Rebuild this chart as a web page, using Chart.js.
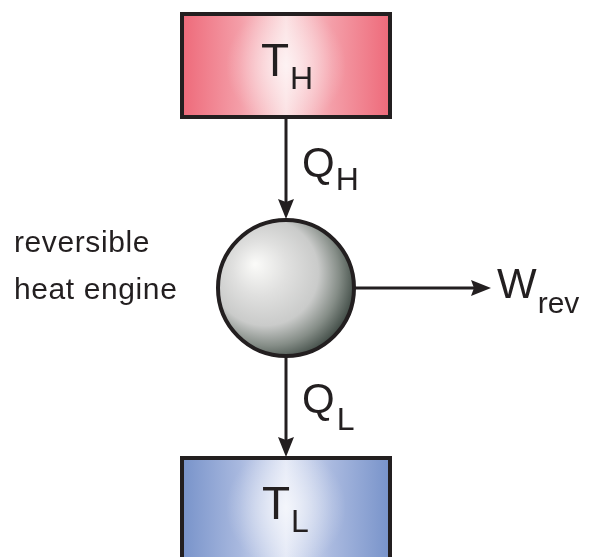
<!DOCTYPE html>
<html>
<head>
<meta charset="utf-8">
<script src="https://cdn.jsdelivr.net/npm/chart.js@4.4.1/dist/chart.umd.min.js"></script>
<style>
html,body{margin:0;padding:0;background:#fff;}
#wrap{width:590px;height:557px;}
</style>
</head>
<body>
<div id="wrap"><canvas id="c" width="590" height="557"></canvas></div>
<script>
// ---- diagram content ----
const reservoirNames = ['T', 'T'];
const reservoirSubs = ['H', 'L'];
const heatNames = ['Q', 'Q'];
const heatSubs = ['H', 'L'];
const workName = ['W'];
const workSub = ['rev'];
const engineLabel = ['reversible', 'heat engine'];

// layout (in diagram units = pixels of a 590x557 frame)
const layout = {
  hot:  {x0: 182, x1: 390, y0: 14, y1: 117},
  cold: {x0: 182, x1: 390, y0: 458, y1: 580},
  engine: {cx: 286, cy: 288, r: 68},
  axisX: 286,
  workEnd: 491
};

const INK = '#231f20';
const FONT = '"Liberation Sans", Arial, Helvetica, sans-serif';

const diagramPlugin = {
  id: 'diagram',
  afterDatasetsDraw(chart) {
    const ctx = chart.ctx;
    const X = v => chart.scales.x.getPixelForValue(v);
    const Y = v => chart.scales.y.getPixelForValue(v);

    function box(b, edge, mid, center, glow) {
      const x0 = X(b.x0), x1 = X(b.x1), y0 = Y(b.y0), y1 = Y(b.y1);
      ctx.save();
      const lg = ctx.createLinearGradient(x0, 0, x1, 0);
      lg.addColorStop(0, edge);
      lg.addColorStop(0.28, mid);
      lg.addColorStop(0.5, center);
      lg.addColorStop(0.72, mid);
      lg.addColorStop(1, edge);
      ctx.fillStyle = lg;
      ctx.fillRect(x0, y0, x1 - x0, y1 - y0);
      const cx = (x0 + x1) / 2, cy = (y0 + Math.min(y1, 557)) / 2;
      const rg = ctx.createRadialGradient(cx, cy, 0, cx, cy, 60);
      rg.addColorStop(0, glow);
      rg.addColorStop(1, 'rgba(255,255,255,0)');
      ctx.fillStyle = rg;
      ctx.fillRect(x0, y0, x1 - x0, y1 - y0);
      ctx.lineWidth = 4;
      ctx.strokeStyle = INK;
      ctx.strokeRect(x0, y0, x1 - x0, y1 - y0);
      ctx.restore();
    }

    function arrow(xa, ya, xb, yb) {
      const ang = Math.atan2(yb - ya, xb - xa);
      const hl = 20, hw = 8;
      ctx.save();
      ctx.strokeStyle = INK;
      ctx.fillStyle = INK;
      ctx.lineWidth = 3;
      ctx.beginPath();
      ctx.moveTo(xa, ya);
      ctx.lineTo(xb - Math.cos(ang) * (hl - 3), yb - Math.sin(ang) * (hl - 3));
      ctx.stroke();
      ctx.beginPath();
      ctx.moveTo(xb, yb);
      ctx.lineTo(xb - Math.cos(ang) * hl - Math.sin(ang) * hw, yb - Math.sin(ang) * hl + Math.cos(ang) * hw);
      ctx.lineTo(xb - Math.cos(ang) * hl * 0.85, yb - Math.sin(ang) * hl * 0.85);
      ctx.lineTo(xb - Math.cos(ang) * hl + Math.sin(ang) * hw, yb - Math.sin(ang) * hl - Math.cos(ang) * hw);
      ctx.closePath();
      ctx.fill();
      ctx.restore();
    }

    function label(main, sub, x, yBase, mainSize, subSize, subDrop, gap) {
      ctx.save();
      ctx.fillStyle = INK;
      ctx.textBaseline = 'alphabetic';
      ctx.textAlign = 'left';
      ctx.font = mainSize + 'px ' + FONT;
      ctx.fillText(main, x, yBase);
      const w = ctx.measureText(main).width;
      ctx.font = subSize + 'px ' + FONT;
      ctx.fillText(sub, x + w + gap, yBase + subDrop);
      ctx.restore();
    }

    const ax = X(layout.axisX);
    const e = layout.engine;
    const ecx = X(e.cx), ecy = Y(e.cy), er = e.r;

    // reservoirs
    box(layout.hot, '#ee6a7a', '#f49ea8', '#fbdfe1', 'rgba(255,255,255,0.6)');
    box(layout.cold, '#7893ca', '#a9b9df', '#e3e8f6', 'rgba(255,255,255,0.6)');

    // arrows
    arrow(ax, Y(layout.hot.y1), ax, ecy - er - 1);
    arrow(ax, ecy + er, ax, Y(layout.cold.y0) - 1);
    arrow(ecx + er, ecy, X(layout.workEnd), ecy);

    // engine sphere
    ctx.save();
    const sg = ctx.createRadialGradient(ecx - 31, ecy - 24, 1, ecx - 14, ecy - 10, er + 20);
    sg.addColorStop(0, '#fafaf8');
    sg.addColorStop(0.3, '#e0e0df');
    sg.addColorStop(0.6, '#cacbca');
    sg.addColorStop(0.8, '#858d87');
    sg.addColorStop(1, '#34403a');
    ctx.beginPath();
    ctx.arc(ecx, ecy, er, 0, Math.PI * 2);
    ctx.fillStyle = sg;
    ctx.fill();
    ctx.lineWidth = 4;
    ctx.strokeStyle = INK;
    ctx.stroke();
    ctx.restore();

    // texts
    label(reservoirNames[0], reservoirSubs[0], X(261), Y(76), 46, 32, 13, 1);
    label(reservoirNames[1], reservoirSubs[1], X(262), Y(519), 46, 32, 13, 1);
    label(heatNames[0], heatSubs[0], X(302), Y(177), 42, 32, 13, 1);
    label(heatNames[1], heatSubs[1], X(302), Y(413), 42, 32, 17, 2);
    label(workName[0], workSub[0], X(497), Y(298), 42, 30, 15, 1);

    ctx.save();
    ctx.fillStyle = INK;
    ctx.font = '30px ' + FONT;
    ctx.letterSpacing = '0.6px';
    ctx.fillText(engineLabel[0], X(14), Y(252));
    ctx.fillText(engineLabel[1], X(14), Y(299));
    ctx.restore();
  }
};

new Chart(document.getElementById('c'), {
  type: 'scatter',
  data: { datasets: [{ data: [], pointRadius: 0 }] },
  options: {
    responsive: false,
    animation: false,
    layout: { padding: 0 },
    plugins: { legend: { display: false }, tooltip: { enabled: false } },
    scales: {
      x: { type: 'linear', min: 0, max: 590, display: false },
      y: { type: 'linear', min: 0, max: 557, reverse: true, display: false }
    }
  },
  plugins: [diagramPlugin]
});
</script>
</body>
</html>
